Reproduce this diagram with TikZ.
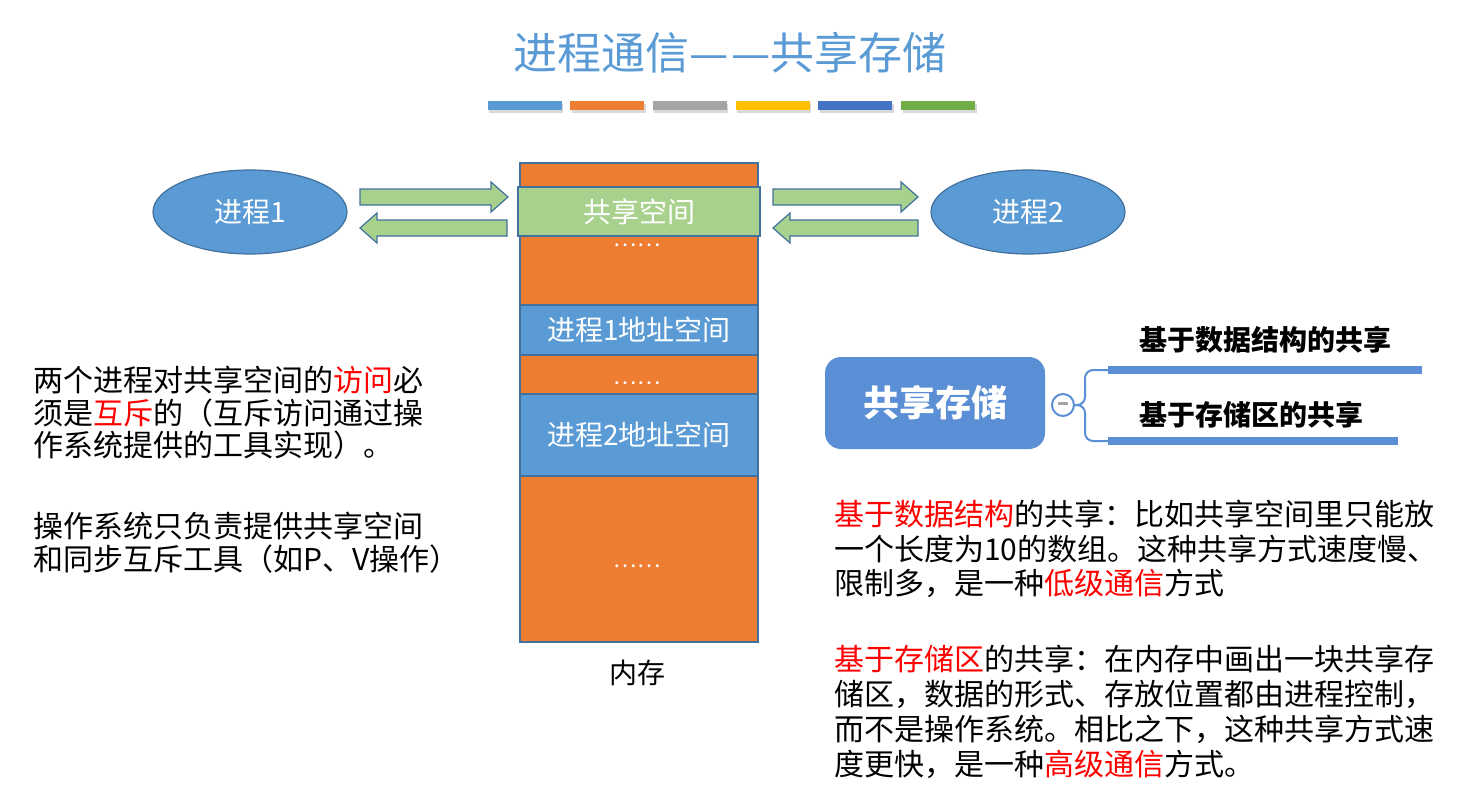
\documentclass[tikz,border=0pt]{standalone}
\usepackage{fontspec}
\setmainfont{Noto Sans CJK SC}
\usetikzlibrary{positioning,shapes.geometric,calc}
\definecolor{ppblue}{HTML}{5B9BD5}
\definecolor{ppedge}{HTML}{41719C}
\definecolor{pporange}{HTML}{ED7D31}
\definecolor{ppgreen}{HTML}{A9D18E}
\definecolor{ppgray}{HTML}{A5A5A5}
\definecolor{ppgold}{HTML}{FFC000}
\definecolor{ppnavy}{HTML}{4472C4}
\definecolor{ppleaf}{HTML}{70AD47}
\definecolor{mmblue}{HTML}{5A8FD5}
\definecolor{ppred}{HTML}{FF0000}

\newcommand{\fsz}[1]{\fontsize{#1}{#1}\selectfont}
% block arrow: tail x, tip x, y, head length (signed)
\newcommand{\blockarrow}[4]{%
  \draw[blk] (#1,#3-8) -- ({#2-(#4)},#3-8) -- ({#2-(#4)},#3-15) -- (#2,#3)
    -- ({#2-(#4)},#3+15) -- ({#2-(#4)},#3+8) -- (#1,#3+8) -- cycle;}

\begin{document}
\begin{tikzpicture}[x=1pt,y=-1pt,
  proc/.style={ellipse,fill=ppblue,draw=ppedge,line width=1.2pt,
               minimum width=194pt,minimum height=84pt,text=white,font=\fsz{28}},
  seg/.style={rectangle,draw=ppedge,line width=1.2pt,minimum width=238pt,
              inner sep=0pt,text=white,font=\fsz{28}},
  dots/.style={text=white,font=\fsz{22},inner sep=0pt,text height=1pt,
               text depth=0pt,anchor=base},
  blk/.style={fill=ppgreen,draw=ppedge,line width=1.2pt},
  para/.style={align=left,anchor=north west,inner sep=0pt},
  topic/.style={rectangle,rounded corners=16pt,fill=mmblue,minimum width=220pt,
                minimum height=92pt,text=white,font=\fsz{36}\bfseries},
  branch/.style={anchor=west,inner sep=0pt,font=\fsz{28}\bfseries},
  mline/.style={draw=mmblue,line width=2pt},
  ubar/.style={draw=mmblue,line width=8pt},
  tbar/.style={minimum width=74pt,minimum height=9pt,inner sep=0pt}
]
\useasboundingbox (0,0) rectangle (1466,808);

% Title and colour bars
\node[font=\fsz{44},text=ppblue] (title) at (730,53)
  {进程通信—\hspace{3pt}—共享存储};
\foreach \c [count=\i from 0] in {ppblue,pporange,ppgray,ppgold,ppnavy,ppleaf}{
  \node[tbar,fill=black!15] (bs\i) at (526+82.7*\i,108) {};
  \node[tbar,fill=\c] (bar\i) at (524.5+82.7*\i,105.5) {};
}

% Memory column
\node[seg,fill=pporange,minimum height=24pt]  (m1) at (639,175)   {};
\node[seg,fill=pporange,minimum height=69pt]  (m2) at (639,270.5) {};
\node[seg,fill=ppblue,minimum height=50pt]    (p1) at (639,330)   {进程1地址空间};
\node[seg,fill=pporange,minimum height=39pt]  (m3) at (639,374.5) {};
\node[seg,fill=ppblue,minimum height=82pt]    (p2) at (639,435)   {进程2地址空间};
\node[seg,fill=pporange,minimum height=166pt] (m4) at (639,559)   {};
\node[seg,fill=ppgreen,minimum height=49pt,minimum width=242pt] (sh) at (639,211.5) {共享空间};
\node[dots] (d1) at (637,246) {……};
\node[dots] (d2) at (637,384) {……};
\node[dots] (d3) at (637,567) {……};
\node[font=\fsz{28}] (mem) at (637,673) {内存};

% Processes and block arrows
\node[proc] (q1) at (250,212)  {进程1};
\node[proc] (q2) at (1028,212) {进程2};
\blockarrow{360}{508}{197}{17}
\blockarrow{507}{360}{228}{-17}
\blockarrow{773}{918}{197}{17}
\blockarrow{918}{773}{228}{-17}

% Left notes
\node[para,font={\fontsize{30}{32.5}\selectfont}] (t1) at (33,366)
  {两个进程对共享空间的\textcolor{ppred}{访问}必\\须是\textcolor{ppred}{互斥}的（互斥访问通过操\\作系统提供的工具实现）。};
\node[para,font={\fontsize{30}{33}\selectfont}] (t2) at (33,512)
  {操作系统只负责提供共享空间\\和同步互斥工具（如P、V操作）};

% Mind map
\node[topic] (mm) at (935,403) {共享存储};
\node[circle,draw=mmblue,fill=white,line width=2pt,minimum size=22pt,inner sep=0pt]
  (mc) at (1063,405) {\color{ppgray}\rule[3pt]{10pt}{2.5pt}};
\coordinate (u1) at (1108,370);
\coordinate (e1) at (1422,370);
\coordinate (u2) at (1108,441);
\coordinate (e2) at (1398,441);
\draw[mline,rounded corners=8pt] (mc.east) -- ++(10,0) |- (u1);
\draw[mline,rounded corners=8pt] (mc.east) -- ++(10,0) |- (u2);
\draw[ubar] (u1) -- (e1);
\draw[ubar] (u2) -- (e2);
\node[branch] (b1) at (1139,340) {基于数据结构的共享};
\node[branch] (b2) at (1139,415) {基于存储区的共享};

% Right notes
\node[para,font={\fontsize{30}{34.5}\selectfont}] (r1) at (834,500)
  {\textcolor{ppred}{基于数据结构}的共享：比如共享空间里只能放\\一个长度为10的数组。这种共享方式速度慢、\\限制多，是一种\textcolor{ppred}{低级通信}方式};
\node[para,font={\fontsize{30}{35}\selectfont}] (r2) at (834,645)
  {\textcolor{ppred}{基于存储区}的共享：在内存中画出一块共享存\\储区，数据的形式、存放位置都由进程控制，\\而不是操作系统。相比之下，这种共享方式速\\度更快，是一种\textcolor{ppred}{高级通信}方式。};

\end{tikzpicture}
\end{document}
